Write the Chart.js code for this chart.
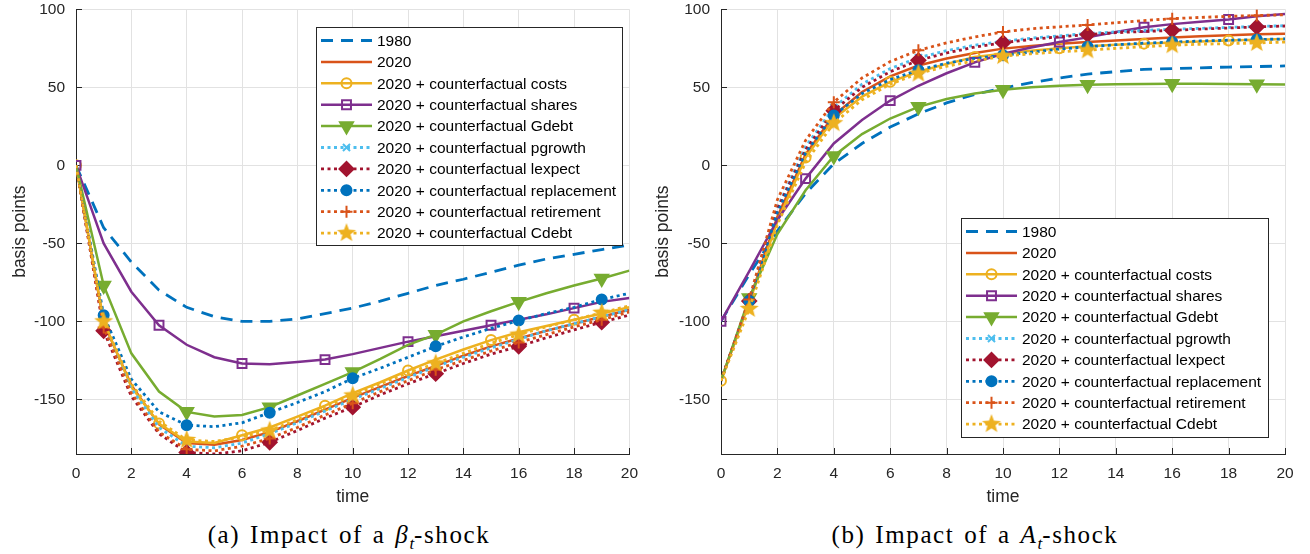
<!DOCTYPE html>
<html>
<head>
<meta charset="utf-8">
<script src="https://cdn.jsdelivr.net/npm/chart.js@4.4.1/dist/chart.umd.min.js"></script>
<style>
  body { margin: 0; background: #fff; width: 1310px; height: 554px; overflow: hidden; position: relative; }
  #c1 { position: absolute; left: 0; top: -11px; }
  #c2 { position: absolute; left: 648px; top: -11px; }
  .cap { position: absolute; top: 521px; font-family: "Liberation Serif", "DejaVu Serif", serif; font-size: 25px; letter-spacing: 1.6px; word-spacing: 2px; color: #000; white-space: nowrap; transform: translateX(-50%); }
  .cap sub { font-size: 17px; letter-spacing: 0; }
</style>
</head>
<body>
<canvas id="c1" width="648" height="526"></canvas>
<canvas id="c2" width="662" height="526"></canvas>
<div class="cap" style="left:349px">(a) Impact of a <i>β<sub>t</sub></i>-shock</div>
<div class="cap" style="left:975px">(b) Impact of a <i>A<sub>t</sub></i>-shock</div>
<script>
// time axis and ticks
const times = [0, 1, 2, 3, 4, 5, 6, 7, 8, 9, 10, 11, 12, 13, 14, 15, 16, 17, 18, 19, 20];
const xTicks = [0, 2, 4, 6, 8, 10, 12, 14, 16, 18, 20];
const yTicks = [-150, -100, -50, 0, 50, 100];

const seriesNames = [
    '1980',
    '2020',
    '2020 + counterfactual costs',
    '2020 + counterfactual shares',
    '2020 + counterfactual Gdebt',
    '2020 + counterfactual pgrowth',
    '2020 + counterfactual lexpect',
    '2020 + counterfactual replacement',
    '2020 + counterfactual retirement',
    '2020 + counterfactual Cdebt'
];

// marker positions (every third period)
const markersA = [0, 3, 6, 9, 12, 15, 18];
const markersB = [1, 4, 7, 10, 13, 16, 19];

// (a) beta shock
const beta1980        = [0, -40, -62, -80, -91, -97, -100, -100, -98.5, -95, -91.5, -87, -82, -77, -73, -68.5, -64, -60, -57, -54, -51];
const beta2020        = [0, -101, -141, -166, -178, -179, -176, -171, -164, -156.5, -149, -142, -135, -128.5, -122, -116, -111, -106, -101.5, -97, -92.5];
const betaCosts       = [0, -100, -142, -165.5, -177, -178, -173, -168, -161, -154, -146, -139, -131.5, -124.5, -118, -112, -107, -103, -99, -95, -91];
const betaShares      = [0, -50, -81, -102.5, -115, -123, -127, -127.5, -126, -124.5, -121, -117, -113, -109.5, -106, -102.5, -99, -95.5, -91.5, -87.5, -85];
const betaGdebt       = [0, -77, -120.5, -145, -158, -161, -160, -155, -147.5, -140, -132.5, -124, -115, -108.5, -100, -93.5, -87.5, -82, -77, -72.5, -67.5];
const betaPgrowth     = [0, -103, -143, -168, -180, -181, -178, -172, -165, -157.5, -150, -143, -136, -129, -123, -117, -111.5, -106, -101.5, -97, -92.5];
const betaLexpect     = [0, -106, -148, -172, -184, -185, -183, -177.5, -170, -162, -155, -147, -140, -133.5, -127, -121, -116, -110.5, -105.5, -100.5, -96];
const betaReplacement = [0, -96, -137, -158, -166.5, -167.5, -165, -158.5, -152, -145, -136.5, -130, -123, -116, -110, -104.5, -99.5, -95, -91, -86, -82];
const betaRetirement  = [0, -104, -146, -171, -182, -183, -180, -175, -168, -160, -152.5, -145, -138, -131, -125, -119, -113.5, -108.5, -103.5, -99, -94];
const betaCdebt       = [0, -100, -140, -164, -176, -177, -174, -170, -163, -155, -147.5, -140, -133, -127, -120.5, -114, -108.5, -103.5, -99, -94.5, -90];

// (b) A shock
const a1980        = [-100, -70, -42, -18, 1, 14, 24.5, 33, 40, 45.5, 49.5, 53, 56, 58.5, 60, 61.5, 62, 62.5, 63, 63.3, 63.7];
const a2020        = [-138, -87, -33, 7, 32, 47, 57, 64, 68.5, 72, 74.8, 76.5, 78, 79, 80, 81, 82, 82.7, 83.3, 84, 84.4];
const aCosts       = [-138, -88, -36, 5, 30, 44, 53.5, 60, 65, 69.5, 71.5, 73.5, 75, 76.3, 77.3, 78, 78.7, 79.3, 80, 80.5, 81];
const aShares      = [-100, -68, -35, -8.5, 14, 29, 41.5, 51, 59, 66, 71.5, 75.5, 79, 82, 85.5, 88.5, 90.5, 92, 93.5, 95.5, 97];
const aGdebt       = [-138, -85, -44, -16, 6, 20, 30, 37.5, 42.5, 46, 48.5, 50, 51, 51.6, 52, 52.2, 52.3, 52.3, 52.2, 52, 51.8];
const aPgrowth     = [-138, -87, -27, 12, 37, 52, 62, 69, 73.5, 77, 79.5, 81.5, 83, 84.5, 85.5, 86.5, 87.2, 87.8, 88.4, 89, 89.5];
const aLexpect     = [-138, -87, -28, 10, 35, 50, 60, 67.3, 72, 75.8, 78.6, 80.7, 82.4, 83.8, 85, 85.8, 86.5, 87.3, 88, 88.7, 89.3];
const aReplacement = [-138, -87, -30, 8, 32, 46, 55, 61, 65.5, 68.5, 70.5, 72.5, 74.5, 76, 77.3, 78.3, 79, 79.7, 80.2, 80.6, 81];
const aRetirement  = [-138, -86, -22, 16, 40.5, 56, 66.5, 73.7, 78.5, 82.3, 85.5, 87.5, 88.8, 89.9, 91.4, 92.8, 94, 94.8, 95.5, 96, 96.5];
const aCdebt       = [-138, -92, -38, 2, 27, 42, 52, 58.8, 63.5, 67, 70, 71.5, 72.8, 73.7, 75, 76, 77, 77.6, 78, 78.4, 79];

// filled 5 point star for Cdebt
function makeStar(color, r) {
    const c = document.createElement('canvas');
    c.width = c.height = Math.ceil(r * 2 + 2);
    const g = c.getContext('2d');
    const cx = c.width / 2, cy = c.height / 2;
    g.beginPath();
    for (let i = 0; i < 10; i++) {
        const rr = i % 2 == 0 ? r : r * 0.42;
        const ang = -Math.PI / 2 + i * Math.PI / 5;
        g.lineTo(cx + rr * Math.cos(ang), cy + rr * Math.sin(ang));
    }
    g.closePath();
    g.fillStyle = color;
    g.fill();
    return c;
}
const starImg = makeStar('#EDB120', 10);

const styles = [
    {color: '#0072BD', dash: [12, 8], marker: null},
    {color: '#D95319', dash: [], marker: null},
    {color: '#EDB120', dash: [], marker: 'circle', r: 5, fill: false, at: markersA},
    {color: '#7E2F8E', dash: [], marker: 'rect', r: 6.3, fill: false, at: markersA},
    {color: '#77AC30', dash: [], marker: 'triangle', rot: 180, r: 7.5, fill: true, at: markersB},
    {color: '#4DBEEE', dash: [3, 3.5], marker: 'crossRot', r: 5, fill: false, at: markersB},
    {color: '#A2142F', dash: [3, 3.5], marker: 'rectRot', r: 7, fill: true, at: markersB},
    {color: '#0072BD', dash: [3, 3.5], marker: 'circle', r: 5, fill: true, at: markersB},
    {color: '#D95319', dash: [3, 3.5], marker: 'cross', r: 6, fill: false, at: markersB},
    {color: '#EDB120', dash: [3, 3.5], marker: starImg, r: 9, fill: true, at: markersB}
];

function construirDatasets(series) {
    return series.map((valores, i) => {
        const st = styles[i];
        return {
            label: seriesNames[i],
            data: valores.map((v, k) => ({x: times[k], y: v})),
            borderColor: st.color,
            borderWidth: st.dash.length ? 2.8 : 2.5,
            borderDash: st.dash,
            borderCapStyle: 'butt',
            tension: 0,
            order: 10 - i,
            pointStyle: st.marker || 'circle',
            pointRotation: st.rot || 0,
            pointRadius: (ctx) => (st.marker && st.at.includes(ctx.dataIndex)) ? st.r : 0,
            pointBorderWidth: 2,
            pointBorderColor: st.color,
            pointBackgroundColor: st.fill ? st.color : 'rgba(0,0,0,0)'
        };
    });
}

// inward tick marks + legend box inside the axes
const extrasPlugin = {
    id: 'extras',
    beforeDatasetsDraw(chart) {
        const {ctx, chartArea: a, scales: {x, y}} = chart;
        ctx.save();
        ctx.strokeStyle = '#262626';
        ctx.lineWidth = 1;
        ctx.beginPath();
        xTicks.forEach(v => {
            const px = Math.round(x.getPixelForValue(v)) + 0.5;
            ctx.moveTo(px, a.bottom);
            ctx.lineTo(px, a.bottom - 6);
        });
        yTicks.forEach(v => {
            const py = Math.round(y.getPixelForValue(v)) + 0.5;
            ctx.moveTo(a.left, py);
            ctx.lineTo(a.left + 6, py);
        });
        ctx.stroke();
        ctx.restore();
    },
    afterDraw(chart, args, opts) {
        const ctx = chart.ctx;
        const bx = opts.x, by = opts.y, bw = opts.w, bh = opts.h;
        ctx.save();
        ctx.fillStyle = '#fff';
        ctx.fillRect(bx, by, bw, bh);
        ctx.strokeStyle = '#262626';
        ctx.lineWidth = 1;
        ctx.setLineDash([]);
        ctx.strokeRect(bx + 0.5, by + 0.5, bw, bh);
        chart.data.datasets.forEach((ds, i) => {
            const st = styles[i];
            const cy = by + 13.5 + i * 21.4;
            ctx.beginPath();
            ctx.strokeStyle = st.color;
            ctx.lineWidth = ds.borderWidth;
            ctx.lineCap = 'butt';
            ctx.setLineDash(st.dash);
            ctx.moveTo(bx + 5, cy);
            ctx.lineTo(bx + 56, cy);
            ctx.stroke();
            ctx.setLineDash([]);
            if (st.marker) {
                ctx.fillStyle = st.fill ? st.color : 'rgba(0,0,0,0)';
                ctx.strokeStyle = st.color;
                ctx.lineWidth = 2;
                Chart.helpers.drawPoint(ctx, {pointStyle: st.marker, rotation: st.rot || 0, radius: st.r, borderWidth: 2}, bx + 30.5, cy);
            }
            ctx.fillStyle = '#000';
            ctx.font = '15.5px "Liberation Sans", Arial, sans-serif';
            ctx.textBaseline = 'middle';
            ctx.fillText(ds.label, bx + 61, cy + 1);
        });
        ctx.restore();
    }
};

function crearGrafico(id, series, yWidth, titlePad, rightPad, legendBox) {
    const fuente = {family: '"Liberation Sans", Arial, sans-serif', size: 15.5};
    const fuenteTitulo = {family: '"Liberation Sans", Arial, sans-serif', size: 17.5};
    return new Chart(document.getElementById(id), {
        type: 'line',
        data: {datasets: construirDatasets(series)},
        plugins: [extrasPlugin],
        options: {
            responsive: false,
            animation: false,
            events: [],
            layout: {padding: {left: 0, right: rightPad, top: 0, bottom: 0}},
            plugins: {
                legend: {display: false},
                tooltip: {enabled: false},
                extras: legendBox
            },
            scales: {
                x: {
                    type: 'linear',
                    min: 0,
                    max: 20,
                    afterBuildTicks: (scale) => { scale.ticks = xTicks.map(v => ({value: v})); },
                    afterFit: (scale) => { scale.height = 61; },
                    grid: {color: '#e2e2e2', lineWidth: 1, drawTicks: false},
                    border: {color: '#262626', width: 1},
                    ticks: {color: '#262626', font: fuente, padding: 10, maxRotation: 0},
                    title: {display: true, text: 'time', color: '#262626', font: fuenteTitulo, padding: {top: 0, bottom: 7.5}}
                },
                y: {
                    min: -185,
                    max: 100,
                    afterBuildTicks: (scale) => { scale.ticks = yTicks.map(v => ({value: v})); },
                    afterFit: (scale) => { scale.width = yWidth; },
                    grid: {color: '#e2e2e2', lineWidth: 1, drawTicks: false},
                    border: {color: '#262626', width: 1},
                    ticks: {color: '#262626', font: fuente, padding: 11},
                    title: {display: true, text: 'basis points', color: '#262626', font: fuenteTitulo, padding: {top: titlePad, bottom: 0}}
                }
            }
        }
    });
}

// legend boxes are given in canvas coordinates (canvas is shifted up by 11px)
crearGrafico('c1',
    [beta1980, beta2020, betaCosts, betaShares, betaGdebt, betaPgrowth, betaLexpect, betaReplacement, betaRetirement, betaCdebt],
    76, 9.5, 8, {x: 316, y: 38, w: 306, h: 218});
crearGrafico('c2',
    [a1980, a2020, aCosts, aShares, aGdebt, aPgrowth, aLexpect, aReplacement, aRetirement, aCdebt],
    73, 4.5, 25, {x: 313, y: 229, w: 307, h: 219});
</script>
</body>
</html>
